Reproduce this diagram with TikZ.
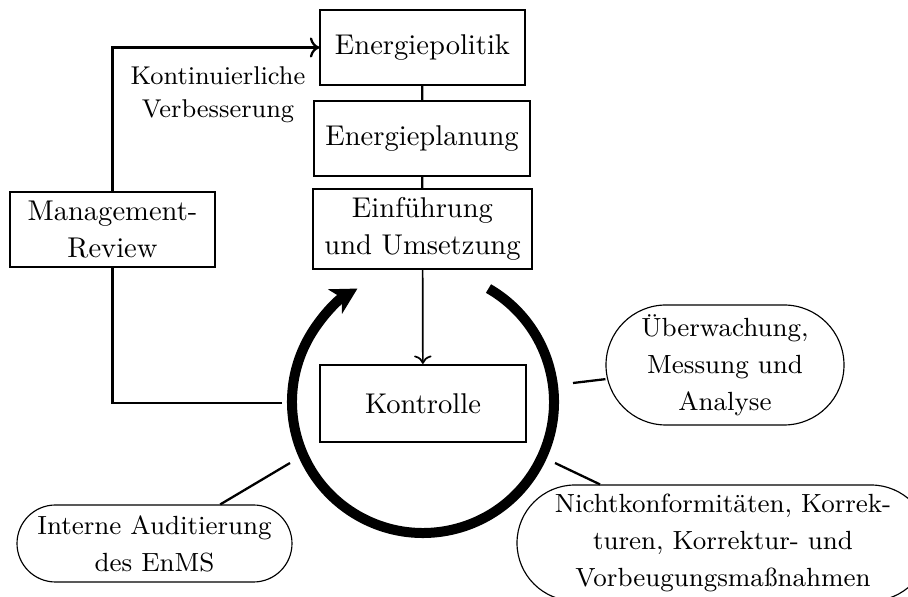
\documentclass[tikz,border=0pt]{standalone}
\usetikzlibrary{arrows.meta,calc}
\begin{document}
\begin{tikzpicture}[x=0.35pt,y=0.35pt,
  box/.style={draw,line width=0.4pt,inner sep=0pt,align=center,
    font=\fontsize{10pt}{13pt}\selectfont},
  pill/.style={draw,line width=0.4pt,inner sep=0pt,align=center,
    font=\fontsize{9.2pt}{13pt}\selectfont},
  note/.style={align=center,inner sep=0pt,font=\fontsize{9pt}{11.5pt}\selectfont},
  link/.style={line width=0.8pt},
  flow/.style={line width=0.8pt,->},
  ring/.style={line width=3.5pt,-{Stealth[length=9pt,width=9.7pt,inset=2.6pt]}}]
\clip (0,0) rectangle (908,-597);

% process boxes
\node[box,minimum width=71.75pt,minimum height=26.25pt] (pol) at (422.5,-47.5) {Energiepolitik};
\node[box,minimum width=75.6pt,minimum height=26.25pt] (plan) at (422,-138.5) {Energieplanung};
\node[box,minimum width=76.65pt,minimum height=28pt] (ein) at (422.5,-229) {Einführung\\und Umsetzung};
\node[box,minimum width=71.75pt,minimum height=26.25pt] (mr) at (112.5,-229.5) {Management-\\Review};
\node[box,line width=0.8pt,minimum width=72.1pt,minimum height=26.95pt] (kon) at (423,-403.5) {Kontrolle};
\node[note] (kv) at (218,-95) {Kontinuierliche\\Verbesserung};

% side activities (half-round ends)
\node[pill,rounded corners=21pt,minimum width=83.3pt,minimum height=42pt] (ueb) at (725,-365) {Überwachung,\\Messung und\\Analyse};
\node[pill,rounded corners=20.3pt,minimum width=144.2pt,minimum height=40.6pt] (nk) at (723,-543) {Nichtkonformitäten, Korrek-\\turen, Korrektur- und\\Vorbeugungsmaßnahmen};
\node[pill,rounded corners=13.47pt,minimum width=96.25pt,minimum height=26.95pt] (ia) at (154.5,-543.5) {Interne Auditierung\\des EnMS};

% chain of the planning boxes
\draw[link] (pol) -- (plan);
\draw[link] (plan) -- (ein);
\draw[line width=0.6pt,->] (ein) -- (kon);

% improvement loop
\coordinate (loopend) at (282,-403);
\draw[link] (loopend) -| (mr);
\draw[flow] (mr.north) |- (pol.west);

% control cycle
\coordinate (c) at (423,-402);
\draw[ring] ($(c)+(60:45.85pt)$) arc[start angle=60,end angle=-240,radius=45.85pt];

% spokes to the side activities
\coordinate (s1) at (573,-383);
\coordinate (s2) at (555,-463);
\coordinate (s3) at (290,-463);
\draw[link] (s1) -- (ueb);
\draw[link] (s2) -- (nk);
\draw[link] (s3) -- (ia);
\end{tikzpicture}
\end{document}
